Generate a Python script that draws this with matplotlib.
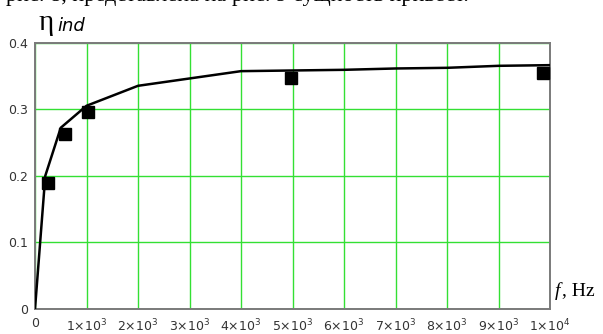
import matplotlib
matplotlib.use('Agg')
import numpy as np
import matplotlib.pyplot as plt

# ---- Data ----
# computed curve (line)
f_curve = [0, 200, 500, 1000, 2000, 3000, 4000, 5000, 6000, 7000, 8000, 9000, 10000]
eta_curve = [0.0, 0.200, 0.272, 0.305, 0.335, 0.346, 0.357, 0.358, 0.359, 0.361, 0.362, 0.365, 0.366]

# measured points (squares)
f_meas = [246, 580, 1035, 4970, 9870]
eta_meas = [0.189, 0.263, 0.296, 0.347, 0.354]

x_ticks = [0, 1000, 2000, 3000, 4000, 5000, 6000, 7000, 8000, 9000, 10000]
x_labels = ['0', r'1$\times$10$^{3}$', r'2$\times$10$^{3}$', r'3$\times$10$^{3}$',
            r'4$\times$10$^{3}$', r'5$\times$10$^{3}$', r'6$\times$10$^{3}$',
            r'7$\times$10$^{3}$', r'8$\times$10$^{3}$', r'9$\times$10$^{3}$',
            r'1$\times$10$^{4}$']
y_ticks = [0, 0.1, 0.2, 0.3, 0.4]
y_labels = ['0', '0.1', '0.2', '0.3', '0.4']

# ---- Style ----
W, H = 603, 334
grid_color = '#33e033'
frame_color = '#7a7a7a'
tick_color = '#333333'

fig = plt.figure(figsize=(W / 100, H / 100), dpi=100)
ax = fig.add_axes([35 / W, (H - 309) / H, (550 - 35) / W, (309 - 42.5) / H])

ax.plot(f_curve, eta_curve, color='black', linewidth=1.8, zorder=3)
ax.plot(f_meas, eta_meas, linestyle='none', marker='s', markersize=8,
        color='black', zorder=4)

ax.set_xlim(0, 10000)
ax.set_ylim(0, 0.4)
ax.set_xticks(x_ticks)
ax.set_xticklabels(x_labels)
ax.set_yticks(y_ticks)
ax.set_yticklabels(y_labels)
ax.tick_params(length=0, labelsize=9, colors=tick_color, pad=5)
ax.tick_params(axis='x', pad=6)
ax.grid(color=grid_color, linewidth=1.0, zorder=0)
for s in ax.spines.values():
    s.set_color(frame_color)
    s.set_linewidth(1.4)

# axis names
fig.text(39 / W, 1 - 23 / H, 'η', fontsize=21, family='Liberation Serif',
         va='center', ha='left')
fig.text(57 / W, 1 - 26 / H, 'ind', fontsize=13, style='italic',
         family='DejaVu Sans', va='center', ha='left')
fig.text(555 / W, 1 - 291 / H, 'f', fontsize=14, style='italic',
         family='Liberation Serif', va='center', ha='left')
fig.text(562 / W, 1 - 291 / H, ', Hz', fontsize=14,
         family='Liberation Serif', va='center', ha='left')

# line of body text above the figure, cut by the page edge
fig.text(6 / W, 1 - 1 / H, 'рис. 8, представлена на рис. 9 сущность привест.',
         fontsize=16, family='Liberation Serif', va='baseline', ha='left')

fig.savefig('out.png', dpi=100)
